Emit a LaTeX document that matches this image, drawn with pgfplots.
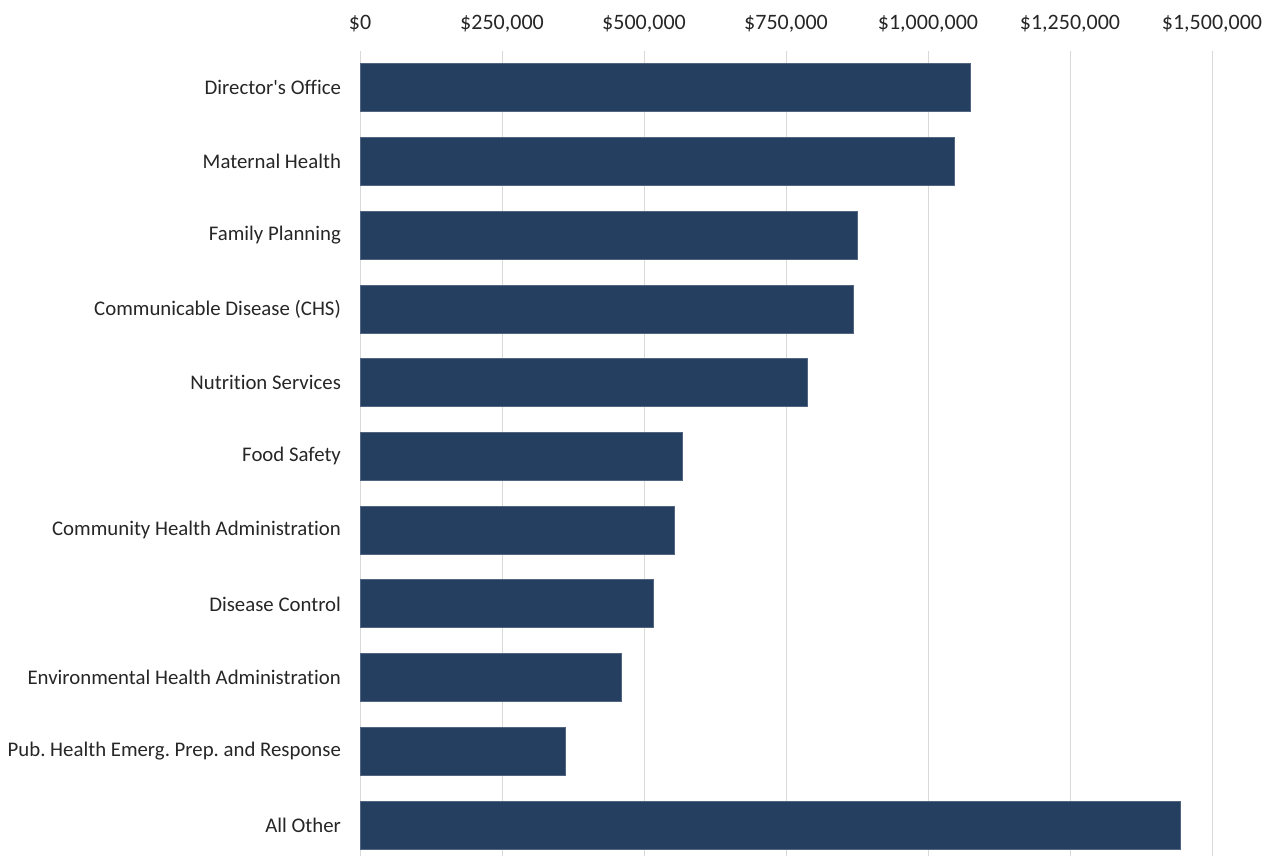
\documentclass[border=0pt]{standalone}
\usepackage{pgfplots}
\pgfplotsset{compat=1.18}
\usepackage{fontspec}
\setmainfont[Ligatures=NoCommon]{Carlito}
\frenchspacing
\definecolor{barblue}{RGB}{37,63,96}
\definecolor{gridgray}{RGB}{217,217,217}
\definecolor{txt}{RGB}{38,38,38}
\begin{document}
\begin{tikzpicture}
\useasboundingbox (0,0) rectangle (640pt,428pt);
\begin{axis}[
  at={(180pt,0pt)}, anchor=south west,
  scale only axis,
  width=426pt, height=402.5pt,
  xbar, bar width=24pt,
  xmin=0, xmax=1500000,
  ymin=-0.42, ymax=10.5,
  axis line style={draw=none},
  major tick length=0pt,
  xmajorgrids, grid style={gridgray, line width=0.5pt},
  xticklabel pos=top,
  xtick={0,250000,500000,750000,1000000,1250000,1500000},
  xticklabels={{\$0},{\$250,000},{\$500,000},{\$750,000},{\$1,000,000},{\$1,250,000},{\$1,500,000}},
  xticklabel style={font=\fontsize{11}{13}\selectfont, text=txt, yshift=6pt},
  scaled x ticks=false,
  ytick={0,1,2,3,4,5,6,7,8,9,10},
  yticklabels={All Other, {Pub.\ Health Emerg.\ Prep.\ and Response}, Environmental Health Administration, Disease Control, Community Health Administration, Food Safety, Nutrition Services, Communicable Disease (CHS), Family Planning, Maternal Health, {Director\textquotesingle s Office}},
  yticklabel style={font=\fontsize{10.4}{12}\selectfont, text=txt, xshift=-6pt},
]
\addplot[fill=barblue, draw=barblue!80!white, line width=0.4pt] coordinates {
  (1445000,0)
  (361000,1)
  (459500,2)
  (516000,3)
  (553000,4)
  (567500,5)
  (787000,6)
  (868500,7)
  (876000,8)
  (1047000,9)
  (1074000,10)
};
\end{axis}
\end{tikzpicture}
\end{document}
